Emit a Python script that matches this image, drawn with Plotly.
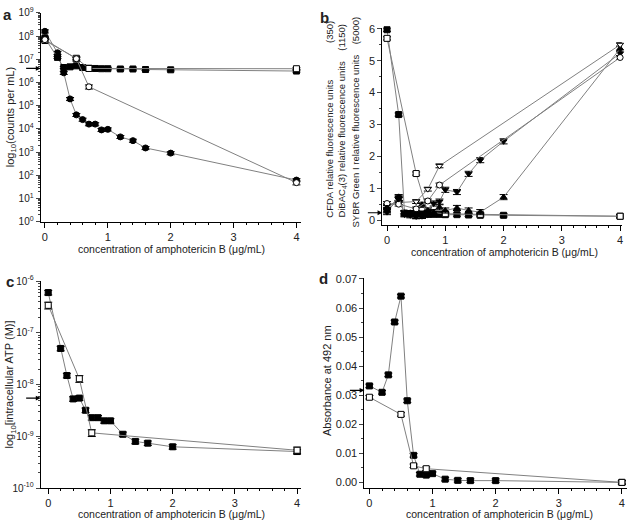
import numpy as np
import plotly.graph_objects as go

# ---- panel a: counts per mL ----
a_x_fc = [0, 0.2, 0.3, 0.4, 0.5, 0.6, 0.7, 0.8, 0.9, 1.0, 1.2, 1.4, 1.6, 2.0, 4.0]
a_y_fc = [1.6e8, 1.9e7, 2.6e6, 1.95e5, 4.0e4, 2.5e4, 1.6e4, 1.6e4, 9.0e3, 9.5e3, 4.5e3, 3.1e3, 1.5e3, 900, 62]
a_x_fs = [0, 0.2, 0.3, 0.4, 0.5, 0.6, 0.7, 0.8, 0.9, 1.0, 1.2, 1.4, 1.6, 2.0, 4.0]
a_y_fs = [8.3e7, 1.2e7, 4.4e6, 4.7e6, 5.2e6, 4.4e6, 4.1e6, 4.0e6, 3.9e6, 3.9e6, 3.8e6, 3.8e6, 3.6e6, 3.5e6, 3.1e6]
a_x_os = [0, 0.5, 0.7, 4.0]
a_y_os = [6.4e7, 1.1e7, 4.0e6, 3.9e6]
a_x_oc = [0, 0.5, 0.7, 4.0]
a_y_oc = [7.0e7, 1.05e7, 6.5e5, 48]

# ---- panel b: relative fluorescence ----
b_x_fs = [0, 0.2, 0.3, 0.4, 0.5, 0.6, 0.7, 0.8, 0.9, 1.0, 1.2, 1.4, 1.6, 2.0, 4.0]
b_y_fs = [5.97, 3.31, 0.22, 0.2, 0.2, 0.19, 0.18, 0.18, 0.18, 0.17, 0.17, 0.16, 0.15, 0.15, 0.12]
b_x_os = [0, 0.5, 0.7, 1.0, 1.6, 4.0]
b_y_os = [5.7, 1.46, 0.25, 0.2, 0.18, 0.12]
b_x_ftd = [0, 0.2, 0.3, 0.4, 0.5, 0.6, 0.7, 0.8, 0.9, 1.0, 1.2, 1.4, 1.6, 2.0, 4.0]
b_y_ftd = [0.25, 0.7, 0.2, 0.15, 0.12, 0.15, 0.2, 0.52, 0.58, 0.95, 0.88, 1.45, 1.88, 2.47, 5.23]
b_x_ftu = [0, 0.2, 0.3, 0.4, 0.5, 0.6, 0.7, 0.8, 0.9, 1.0, 1.2, 1.4, 1.6, 2.0, 4.0]
b_y_ftu = [0.3, 0.65, 0.22, 0.2, 0.3, 0.48, 0.3, 0.25, 0.4, 0.3, 0.38, 0.3, 0.25, 0.72, 5.38]
b_x_otd = [0, 0.2, 0.5, 0.7, 0.9, 4.0]
b_y_otd = [0.45, 0.55, 0.58, 0.97, 1.7, 5.5]
b_x_oc = [0, 0.2, 0.5, 0.7, 0.9, 4.0]
b_y_oc = [0.52, 0.5, 0.35, 0.6, 1.1, 5.1]
b_x_fd = [0, 0.2, 0.3, 0.4, 0.5, 0.6, 0.7]
b_y_fd = [0.35, 0.7, 0.2, 0.2, 0.15, 0.15, 0.2]

# ---- panel c: intracellular ATP ----
c_x_fs = [0, 0.2, 0.3, 0.4, 0.5, 0.6, 0.7, 0.8, 0.9, 1.0, 1.2, 1.4, 1.6, 2.0, 4.0]
c_y_fs = [6.0e-7, 5.0e-8, 1.5e-8, 5.3e-9, 5.5e-9, 3.2e-9, 2.3e-9, 2.3e-9, 2.0e-9, 2.0e-9, 1.1e-9, 8.0e-10, 7.4e-10, 6.3e-10, 5.1e-10]
c_x_os = [0, 0.5, 0.7, 4.0]
c_y_os = [3.4e-7, 1.3e-8, 1.17e-9, 5.4e-10]

# ---- panel d: absorbance ----
d_x_fs = [0, 0.2, 0.3, 0.4, 0.5, 0.6, 0.7, 0.8, 0.9, 1.0, 1.2, 1.4, 1.6, 2.0, 4.0]
d_y_fs = [0.0332, 0.031, 0.037, 0.0552, 0.0641, 0.0281, 0.0093, 0.0028, 0.0025, 0.003, 0.0011, 0.0007, 0.0006, 0.0006, 0.0]
d_x_os = [0, 0.5, 0.7, 0.9, 4.0]
d_y_os = [0.0293, 0.0234, 0.0057, 0.0047, 0.0]

# arrow levels (reference values)
a_arrow = 4e6
b_arrow = 0.23
c_arrow = 5.5e-9
d_arrow = 0.0317

W, H = 633, 529
LINE = "#808080"
FONT = "Liberation Sans, Arial, sans-serif"

fig = go.Figure()


def series(x, y, xa, ya, symbol, fill, err, size=6, err_type="percent"):
    if err_type == "percent":
        ey = dict(type="percent", value=err, color="black", thickness=1, width=4)
    else:
        ey = dict(type="constant", value=err, color="black", thickness=1, width=4)
    fig.add_trace(go.Scatter(
        x=x, y=y, xaxis=xa, yaxis=ya, mode="lines+markers",
        line=dict(color=LINE, width=1),
        marker=dict(symbol=symbol, size=size, color=fill, line=dict(color="black", width=1)),
        error_y=ey, showlegend=False, cliponaxis=False))


# panel a
series(a_x_fc, a_y_fc, "x", "y", "circle", "black", 15)
series(a_x_fs, a_y_fs, "x", "y", "square", "black", 10)
series(a_x_os, a_y_os, "x", "y", "square", "white", 10)
series(a_x_oc, a_y_oc, "x", "y", "circle", "white", 20)

# panel b
series(b_x_fs, b_y_fs, "x2", "y2", "square", "black", 0.05, err_type="c")
series(b_x_os, b_y_os, "x2", "y2", "square", "white", 0.05, err_type="c")
series(b_x_ftd, b_y_ftd, "x2", "y2", "triangle-down", "black", 0.08, err_type="c")
series(b_x_ftu, b_y_ftu, "x2", "y2", "triangle-up", "black", 0.08, err_type="c")
series(b_x_otd, b_y_otd, "x2", "y2", "triangle-down", "white", 0.06, err_type="c")
series(b_x_oc, b_y_oc, "x2", "y2", "circle", "white", 0.06, err_type="c")
series(b_x_fd, b_y_fd, "x2", "y2", "diamond", "black", 0.1, err_type="c")

# panel c
series(c_x_fs, c_y_fs, "x3", "y3", "square", "black", 10)
series(c_x_os, c_y_os, "x3", "y3", "square", "white", 15)

# panel d
series(d_x_fs, d_y_fs, "x4", "y4", "square", "black", 0.0006, err_type="c")
series(d_x_os, d_y_os, "x4", "y4", "square", "white", 0.0006, err_type="c")


def xax(domain, rng, anchor):
    return dict(domain=domain, range=rng, anchor=anchor, showline=True, linecolor="black",
                linewidth=1, ticks="outside", ticklen=5, tickcolor="black", tickvals=[0, 1, 2, 3, 4],
                showgrid=False, zeroline=False, tickfont=dict(size=11, color="#222"),
                minor=dict(ticks="outside", ticklen=2, dtick=0.2, tickcolor="black", showgrid=False))


def logminor(lo, hi):
    vals = []
    for k in range(lo, hi):
        for m in range(2, 10):
            vals.append(m * 10.0 ** k)
    return vals


a_ticks = [10.0 ** k for k in range(0, 10)]
a_text = ["10<sup>%d</sup>" % k for k in range(0, 10)]
c_ticks = [10.0 ** k for k in range(-10, -5)]
c_text = ["10<sup>%d</sup>" % k for k in range(-10, -5)]

yfont = dict(size=10, color="#222")
fig.update_layout(
    width=W, height=H, margin=dict(l=0, r=0, t=0, b=0),
    paper_bgcolor="white", plot_bgcolor="white",
    font=dict(family=FONT, color="#222"),
    xaxis=xax([0.0643, 0.477], [-0.068, 4.08], "y"),
    xaxis2=xax([0.605, 0.984], [-0.08, 4.03], "y2"),
    xaxis3=xax([0.0643, 0.477], [-0.122, 4.07], "y3"),
    xaxis4=xax([0.5766, 0.992], [-0.079, 4.08], "y4"),
    yaxis=dict(domain=[0.584, 0.9887], type="log", range=[0, 9], anchor="x", showline=True,
               linecolor="black", ticks="outside", ticklen=4, tickvals=a_ticks, ticktext=a_text,
               showgrid=False, zeroline=False, tickfont=yfont,
               minor=dict(ticks="outside", ticklen=2, tickvals=logminor(0, 9), showgrid=False)),
    yaxis2=dict(domain=[0.5784, 0.959], range=[-0.14, 6.02], anchor="x2", showline=True,
                linecolor="black", ticks="outside", ticklen=4, dtick=1, showgrid=False,
                zeroline=False, tickfont=dict(size=11, color="#222"),
                minor=dict(ticks="outside", ticklen=2, dtick=0.5, showgrid=False)),
    yaxis3=dict(domain=[0.0675, 0.4688], type="log", range=[-10, -6], anchor="x3", showline=True,
                linecolor="black", ticks="outside", ticklen=4, tickvals=c_ticks, ticktext=c_text,
                showgrid=False, zeroline=False, tickfont=yfont,
                minor=dict(ticks="outside", ticklen=2, tickvals=logminor(-10, -6), showgrid=False)),
    yaxis4=dict(domain=[0.0686, 0.474], range=[-0.0018, 0.0702], anchor="x4", showline=True,
                linecolor="black", ticks="outside", ticklen=4, dtick=0.01, tickformat=".2f",
                showgrid=False, zeroline=False, tickfont=dict(size=11, color="#222"),
                minor=dict(ticks="outside", ticklen=2, dtick=0.005, showgrid=False)),
)


def px(xp, yp):
    return xp / W, 1 - yp / H


def label(text, xp, yp, size=10.5, angle=0, bold=False):
    x, y = px(xp, yp)
    if bold:
        text = "<b>%s</b>" % text
    fig.add_annotation(x=x, y=y, xref="paper", yref="paper", text=text, showarrow=False,
                       textangle=angle, font=dict(size=size, color="#222", family=FONT),
                       xanchor="center", yanchor="middle")


xtitle = "concentration of amphotericin B (\u03bcg/mL)"
label(xtitle, 172, 248)
label(xtitle, 505, 251)
label(xtitle, 172, 520)
label(xtitle, 500, 520)

gap = "\u00a0" * 4
label("log<sub>10</sub>(counts per mL)", 11, 113, size=11, angle=-90)
label("log<sub>10</sub>[intracellular ATP (M)]", 11, 387, size=11, angle=-90)
label("Absorbance at 492 nm", 327, 383, size=11, angle=-90)
label("CFDA relative fluorescence units" + "\u00a0" * 14 + "(350)", 330, 115, size=9.5, angle=-90)
label("DiBAC<sub>4</sub>(3) relative fluorescence units" + gap + "(1150)", 343, 116, size=9.5, angle=-90)
label("SYBR Green I relative fluorescence units" + gap + "(5000)", 356, 118, size=9.5, angle=-90)

label("a", 8, 8, size=15, bold=True)
label("b", 325, 11, size=15, bold=True)
label("c", 10, 281, size=15, bold=True)
label("d", 324, 278, size=15, bold=True)

# reference arrows on the y axes
for xa, ya, yv in [("x", "y", np.log10(a_arrow)), ("x2", "y2", b_arrow),
                   ("x3", "y3", np.log10(c_arrow)), ("x4", "y4", d_arrow)]:
    dom = fig.layout[xa.replace("x", "xaxis")].domain
    fig.add_annotation(x=dom[0], y=yv, xref="paper", yref=ya, ax=-16, ay=0,
                       showarrow=True, arrowhead=2, arrowsize=0.8, arrowwidth=1.2,
                       arrowcolor="black", text="")

# the page's default body margin would shift the whole figure by 8px
fig.write_html("out.html", config={"displayModeBar": False},
               post_script="document.body.style.margin='0px';")
